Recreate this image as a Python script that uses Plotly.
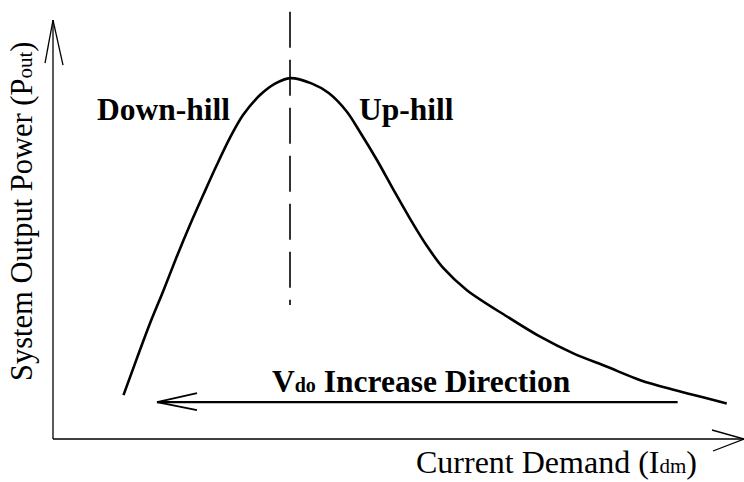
import plotly.graph_objects as go

# ---- data (conceptual P-I curve) ----
current_demand = [1.02, 1.21, 1.40, 1.60, 1.79, 1.98, 2.18, 2.37, 2.56, 2.75, 3.00, 3.22,
                  3.43, 3.74, 3.99, 4.25, 4.44, 4.69, 4.93, 5.17, 5.41, 5.65, 5.99,
                  6.57, 7.05, 7.53, 8.01, 8.50, 8.98, 9.75]
output_power = [1.00, 1.82, 2.62, 3.39, 4.15, 4.87, 5.58, 6.24, 6.86, 7.38, 7.84, 8.10,
                8.22, 8.10, 7.88, 7.46, 7.00, 6.35, 5.67, 5.01, 4.40, 3.89, 3.39,
                2.79, 2.33, 1.95, 1.65, 1.34, 1.12, 0.81]
peak_current = 3.43
divider_span = [9.73, 3.05]
direction_span = [9.04, 1.505]
direction_level = 0.84
axis_x_end = 10.0
axis_y_end = 9.54

W, H = 744, 482
ORIGIN_PX = (53, 439)
SX, SY = 69.1, 43.9  # px per data unit

xr = [-ORIGIN_PX[0] / SX, (W - ORIGIN_PX[0]) / SX]
yr = [-(H - ORIGIN_PX[1]) / SY, ORIGIN_PX[1] / SY]

def dx(px):
    return px / SX

def dy(px):
    return px / SY

def px_x(p):
    return (p - ORIGIN_PX[0]) / SX

def px_y(p):
    return (ORIGIN_PX[1] - p) / SY

def small(s, size):
    return "<span style='font-size:%dpx'>%s</span>" % (size, s)

fig = go.Figure()

fig.add_trace(go.Scatter(x=current_demand, y=output_power, mode="lines",
                         line=dict(color="black", width=2.6, shape="spline", smoothing=0.9),
                         hoverinfo="skip", showlegend=False))

fig.add_trace(go.Scatter(x=[peak_current, peak_current], y=divider_span, mode="lines",
                         line=dict(color="black", width=1.6, dash="36px,12px"),
                         hoverinfo="skip", showlegend=False))

shapes = []
def seg(x0, y0, x1, y1, w):
    shapes.append(dict(type="line", xref="x", yref="y", x0=x0, y0=y0, x1=x1, y1=y1,
                       line=dict(color="black", width=w)))

# axes
seg(0, 0, axis_x_end, 0, 1.3)
seg(0, 0, 0, axis_y_end, 1.3)
# x-axis open arrowhead
seg(axis_x_end, 0, axis_x_end - dx(32), dy(9), 1.3)
seg(axis_x_end, 0, axis_x_end - dx(31), -dy(12), 1.3)
# y-axis open arrowhead
seg(0, axis_y_end, -dx(8), axis_y_end - dy(43), 1.3)
seg(0, axis_y_end, dx(10), axis_y_end - dy(45), 1.3)
# direction arrow
seg(direction_span[0], direction_level, direction_span[1], direction_level, 2.2)
seg(direction_span[1], direction_level, direction_span[1] + dx(40), direction_level + dy(9), 2.0)
seg(direction_span[1], direction_level, direction_span[1] + dx(40), direction_level - dy(8), 2.0)

serif = "Liberation Serif"
annotations = [
    dict(x=px_x(163), y=px_y(109), text="<b>Down-hill</b>", font=dict(size=31.5)),
    dict(x=px_x(406), y=px_y(109), text="<b>Up-hill</b>", font=dict(size=31.5)),
    dict(x=px_x(421), y=px_y(381), text="<b>V" + small("do", 20) + " Increase Direction</b>",
         font=dict(size=31.5)),
    dict(x=px_x(556), y=px_y(462), text="Current Demand (I" + small("dm", 21) + ")",
         font=dict(size=32)),
    dict(x=px_x(22), y=px_y(212), text="System Output Power (P" + small("out", 21) + ")",
         font=dict(size=30.5), textangle=-90),
]
for a in annotations:
    a.update(xref="x", yref="y", showarrow=False, xanchor="center", yanchor="middle")
    a["font"].update(family=serif, color="black")

fig.update_layout(
    width=W, height=H,
    margin=dict(l=0, r=0, t=0, b=0),
    paper_bgcolor="white", plot_bgcolor="white",
    xaxis=dict(range=xr, visible=False, fixedrange=True),
    yaxis=dict(range=yr, visible=False, fixedrange=True),
    shapes=shapes, annotations=annotations,
    showlegend=False,
)

fig.write_html("out.html", config={"displayModeBar": False},
               post_script="document.body.style.margin='0px';")
